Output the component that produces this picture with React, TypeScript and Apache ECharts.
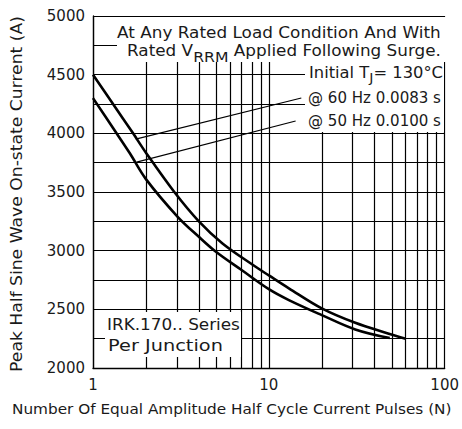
import React, { useEffect, useRef } from "react";
import * as echarts from "echarts";

// ---- data ----
const pulses60 = [1, 1.3, 1.69, 2, 2.9, 4, 5.45, 8.41, 10, 13, 20, 31, 47.6, 60];
const current60 = [4500, 4250, 4000, 3835, 3500, 3250, 3062, 2863, 2789, 2679, 2508, 2385, 2295, 2250];
const pulses50 = [1, 1.3, 1.62, 2, 3.03, 4, 5, 7, 10, 13, 20, 31, 48.7];
const current50 = [4300, 4045, 3830, 3610, 3289, 3118, 2991, 2835, 2672, 2579, 2451, 2329, 2255];
const minorGridX = [2, 3, 4, 5, 6, 7, 8, 9, 20, 30, 40, 50, 60, 70, 80, 90];
const leader60 = [[1.75, 3951], [15.3, 4301]];
const leader50 = [[1.77, 3755], [14.2, 4105]];
const yMin = 2000;
const yMax = 5000;
const yStep = 250;
const yLabelStep = 500;
const xTitle = "Number Of Equal Amplitude Half Cycle Current Pulses (N)";
const yTitle = "Peak Half Sine Wave On-state Current (A)";

const FONT = '"DejaVu Sans", sans-serif';
const TXT = "#1a1a1a";

let _ctx: CanvasRenderingContext2D | null = null;
function tw(text: string, size: number): number {
  if (!_ctx) _ctx = document.createElement("canvas").getContext("2d");
  _ctx!.font = `${size}px "DejaVu Sans"`;
  return _ctx!.measureText(text).width;
}

function fitText(text: string, size: number, left: number, right: number, cy: number) {
  const w = tw(text, size);
  return {
    type: "text",
    x: left,
    y: cy,
    scaleX: (right - left) / w,
    z: 20,
    style: { text, x: 0, y: 0, fontSize: size, fontFamily: FONT, fill: TXT, textAlign: "left", textVerticalAlign: "middle", verticalAlign: "middle" },
  };
}

function vertText(text: string, size: number, cx: number, bottom: number, top: number) {
  const w = tw(text, size);
  return {
    type: "text",
    x: cx,
    y: (bottom + top) / 2,
    rotation: Math.PI / 2,
    scaleX: (bottom - top) / w,
    z: 20,
    style: { text, x: 0, y: 0, fontSize: size, fontFamily: FONT, fill: TXT, textAlign: "center", textVerticalAlign: "middle", verticalAlign: "middle" },
  };
}

function subText(pre: string, sub: string, post: string, size: number, subSize: number, left: number, right: number, cy: number, dy: number) {
  const w1 = tw(pre, size);
  const w2 = tw(sub, subSize);
  const w3 = tw(post, size);
  const mk = (t: string, x: number, y: number, s: number) => ({
    type: "text",
    x,
    y,
    z: 20,
    style: { text: t, x: 0, y: 0, fontSize: s, fontFamily: FONT, fill: TXT, textAlign: "left", textVerticalAlign: "middle", verticalAlign: "middle" },
  });
  return {
    type: "group",
    x: left,
    y: cy,
    scaleX: (right - left) / (w1 + w2 + w3),
    z: 20,
    children: [mk(pre, 0, 0, size), mk(sub, w1, dy, subSize), mk(post, w1 + w2, 0, size)],
  };
}

export default function App() {
  const ref = useRef<HTMLDivElement>(null);
  useEffect(() => {
    if (!ref.current) return;
    const chart = echarts.init(ref.current, null, { renderer: "svg" });
    const line = (x: number[], y: number[]) => x.map((v, i) => [v, y[i]]);
    const rect = (x: number, y: number, w: number, h: number) => ({
      type: "rect",
      z: 10,
      shape: { x, y, width: w, height: h },
      style: { fill: "#fff" },
    });
    chart.setOption({
      animation: false,
      backgroundColor: "#fff",
      grid: { left: 93, right: 15, top: 16, bottom: 61 },
      xAxis: {
        type: "log",
        logBase: 10,
        min: 1,
        max: 100,
        axisLine: { show: true, lineStyle: { color: "#000", width: 1.3 } },
        axisTick: { show: false },
        axisLabel: { fontSize: 15, fontFamily: FONT, color: TXT, margin: 9 },
        splitLine: { show: true, lineStyle: { color: "#000", width: 1.2 } },
      },
      yAxis: {
        type: "value",
        min: yMin,
        max: yMax,
        interval: yStep,
        axisLine: { show: true, lineStyle: { color: "#000", width: 1.3 } },
        axisTick: { show: false },
        axisLabel: {
          fontSize: 15,
          fontFamily: FONT,
          color: TXT,
          margin: 8,
          formatter: (v: number) => (v % yLabelStep === 0 ? String(v) : ""),
        },
        splitLine: { show: true, lineStyle: { color: "#000", width: 1.2 } },
      },
      series: [
        {
          type: "line",
          data: line(pulses60, current60),
          smooth: 0.35,
          showSymbol: false,
          lineStyle: { color: "#000", width: 2.6 },
          z: 5,
          markLine: {
            silent: true,
            symbol: ["none", "none"],
            label: { show: false },
            lineStyle: { color: "#000", width: 1.2, type: "solid" },
            data: [
              ...minorGridX.map((v) => ({ xAxis: v })),
              [
                { coord: leader60[0], lineStyle: { width: 1.2, color: "#000", type: "solid" } },
                { coord: leader60[1] },
              ],
              [
                { coord: leader50[0], lineStyle: { width: 1.2, color: "#000", type: "solid" } },
                { coord: leader50[1] },
              ],
            ],
          },
        },
        {
          type: "line",
          data: line(pulses50, current50),
          smooth: 0.35,
          showSymbol: false,
          lineStyle: { color: "#000", width: 2.6 },
          z: 5,
        },
      ],
      graphic: [
        rect(117, 17, 329, 45),
        rect(305, 62, 139, 70),
        rect(105, 312, 136, 45),
        fitText("At Any Rated Load Condition And With", 15, 117, 441, 33),
        subText("Rated V", "RRM", " Applied Following Surge.", 15, 14, 127, 441, 51, 6),
        subText("Initial T", "J", "= 130°C", 15, 13, 309, 443, 73, 4),
        fitText("@ 60 Hz 0.0083 s", 15, 308, 441, 98),
        fitText("@ 50 Hz 0.0100 s", 15, 308, 441, 121),
        fitText("IRK.170.. Series", 16, 107, 240, 325),
        fitText("Per Junction", 16, 108, 223, 346),
        fitText(xTitle, 14, 12, 452, 409),
        vertText(yTitle, 16, 17, 372, 16),
      ],
    });
    return () => chart.dispose();
  }, []);
  return (
    <div
      ref={ref}
      style={{ position: "absolute", left: 0, top: 0, width: 462, height: 429, background: "#fff" }}
    />
  );
}
